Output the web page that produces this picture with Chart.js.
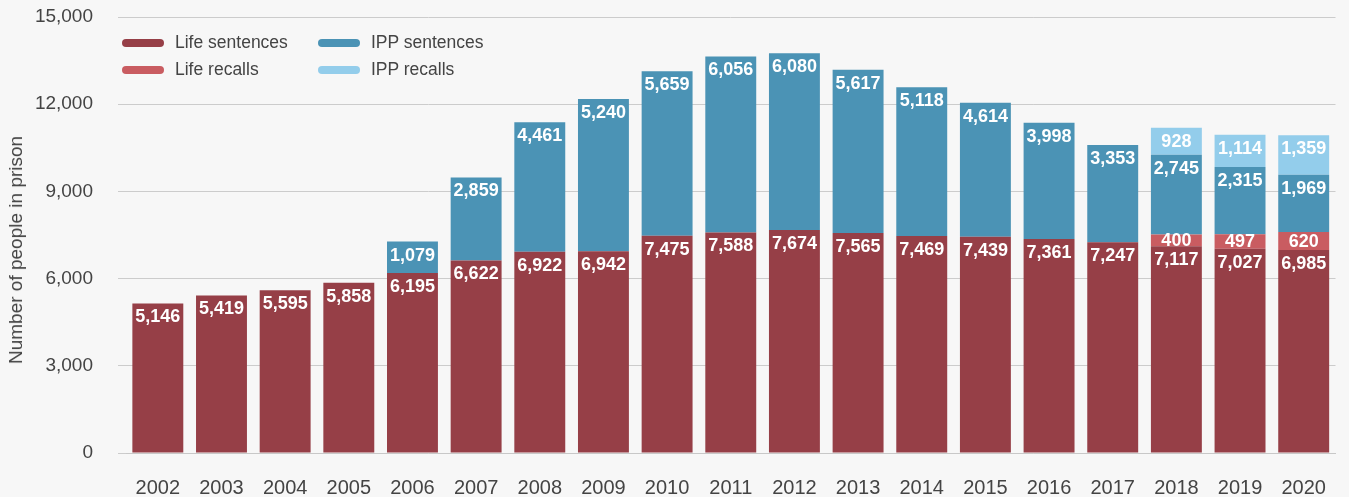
<!DOCTYPE html>
<html>
<head>
  <title>People in prison on life and IPP sentences</title>
  <script src="https://cdn.jsdelivr.net/npm/chart.js"></script>
  <style>
    body { margin: 0; background: #f7f7f7; }
    .container {
      position: relative;
      width: 1349px;
      height: 497px;
      background: #f7f7f7;
      font-family: "Liberation Sans", Arial, sans-serif;
    }
    .legend {
      position: absolute;
      left: 122px;
      top: 31px;
      display: grid;
      grid-template-columns: 196px 200px;
      row-gap: 4px;
      color: #444;
      font-size: 17.5px;
    }
    .legend span { display: flex; align-items: center; height: 23px; }
    .legend i {
      display: inline-block;
      width: 42px;
      height: 8px;
      border-radius: 4px;
      margin-right: 11px;
    }
    .ytitle {
      position: absolute;
      left: 16px;
      top: 250px;
      transform: translate(-50%, -50%) rotate(-90deg);
      white-space: nowrap;
      color: #444;
      font-size: 19px;
    }
  </style>
</head>
<body>
  <div class="container">
    <canvas id="chart"></canvas>
    <div class="ytitle">Number of people in prison</div>
    <div class="legend">
      <span><i style="background:#963f47"></i>Life sentences</span>
      <span><i style="background:#4b93b5"></i>IPP sentences</span>
      <span><i style="background:#c95c61"></i>Life recalls</span>
      <span><i style="background:#93cdeb"></i>IPP recalls</span>
    </div>
  </div>

  <script>
    // chart data
    const years = ['2002', '2003', '2004', '2005', '2006', '2007', '2008', '2009', '2010', '2011',
                   '2012', '2013', '2014', '2015', '2016', '2017', '2018', '2019', '2020'];
    const lifeSentences = [5146, 5419, 5595, 5858, 6195, 6622, 6922, 6942, 7475, 7588,
                           7674, 7565, 7469, 7439, 7361, 7247, 7117, 7027, 6985];
    const lifeRecalls = [null, null, null, null, null, null, null, null, null, null,
                         null, null, null, null, null, null, 400, 497, 620];
    const ippSentences = [null, null, null, null, 1079, 2859, 4461, 5240, 5659, 6056,
                          6080, 5617, 5118, 4614, 3998, 3353, 2745, 2315, 1969];
    const ippRecalls = [null, null, null, null, null, null, null, null, null, null,
                        null, null, null, null, null, null, 928, 1114, 1359];
    const yTicks = [0, 3000, 6000, 9000, 12000, 15000];

    const fontFamily = '"Liberation Sans", Arial, sans-serif';

    // white value labels near the top of each segment
    const barLabels = {
      id: 'barLabels',
      afterDatasetsDraw(chart) {
        const ctx = chart.ctx;
        ctx.save();
        ctx.fillStyle = '#ffffff';
        ctx.font = 'bold 18px ' + fontFamily;
        ctx.textAlign = 'center';
        ctx.textBaseline = 'middle';
        chart.data.datasets.forEach((ds, i) => {
          const meta = chart.getDatasetMeta(i);
          meta.data.forEach((bar, j) => {
            const v = ds.data[j];
            if (v == null) return;
            const h = bar.base - bar.y;
            const off = Math.min(13, h / 2);
            ctx.fillText(v.toLocaleString('en-GB'), bar.x, bar.y + off + 1);
          });
        });
        ctx.restore();
      }
    };

    const ctx = document.getElementById('chart').getContext('2d');
    new Chart(ctx, {
      type: 'bar',
      data: {
        labels: years,
        datasets: [
          { label: 'Life sentences', data: lifeSentences, backgroundColor: '#963f47' },
          { label: 'Life recalls', data: lifeRecalls, backgroundColor: '#c95c61' },
          { label: 'IPP sentences', data: ippSentences, backgroundColor: '#4b93b5' },
          { label: 'IPP recalls', data: ippRecalls, backgroundColor: '#93cdeb' }
        ]
      },
      options: {
        responsive: true,
        maintainAspectRatio: false,
        animation: false,
        categoryPercentage: 0.8,
        barPercentage: 1,
        layout: { padding: { top: 17, right: 2 } },
        plugins: {
          legend: { display: false },
          tooltip: { enabled: false }
        },
        scales: {
          x: {
            stacked: true,
            grid: { display: false, drawTicks: false },
            border: { color: '#c8c8c8' },
            ticks: { color: '#444', font: { family: fontFamily, size: 20 }, padding: 23, maxRotation: 0 },
            afterFit(scale) { scale.height = 44; }
          },
          y: {
            stacked: true,
            min: 0,
            max: 15000,
            afterBuildTicks(scale) { scale.ticks = yTicks.map(v => ({ value: v })); },
            grid: { color: '#cccccc', tickLength: 8, tickColor: '#cccccc' },
            border: { display: false },
            ticks: {
              color: '#444',
              padding: 25,
              font: { family: fontFamily, size: 19 },
              callback: v => v.toLocaleString('en-GB')
            },
            afterFit(scale) {
              scale.width = 126;
              scale.paddingTop = 0;
              scale.paddingBottom = 0;
            }
          }
        }
      },
      plugins: [barLabels]
    });
  </script>
</body>
</html>
